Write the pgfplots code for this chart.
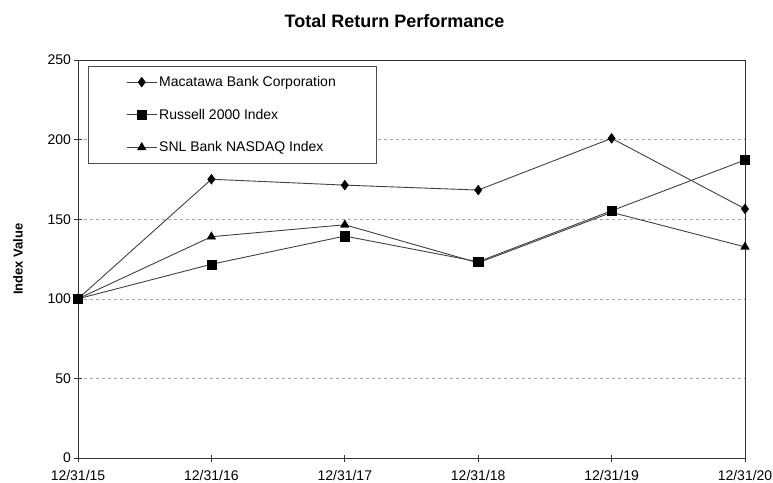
\documentclass[border=0pt]{standalone}
\usepackage{pgfplots}
\pgfplotsset{compat=1.18}
\usepackage{fontspec}
\setmainfont{Liberation Sans}
\begin{document}
\begin{tikzpicture}[x=1pt,y=1pt]
\path[use as bounding box] (-78,-24) rectangle (695,458);
\begin{axis}[
  at={(0,0)}, anchor=south west,
  scale only axis, width=667pt, height=398pt,
  xmin=0, xmax=5, ymin=0, ymax=250,
  xtick={0,1,2,3,4,5},
  xticklabels={12/31/15,12/31/16,12/31/17,12/31/18,12/31/19,12/31/20},
  ytick={0,50,100,150,200,250},
  tick align=center, major tick length=7pt,
  xtick pos=bottom, ytick pos=left,
  ymajorgrids, grid style={gray!70, dashed, line width=0.5pt},
  axis line style={black!80, line width=0.9pt},
  tick style={black!80, line width=0.7pt},
  tick label style={font=\fontsize{14}{15}\selectfont},
  /pgf/number format/assume math mode=true,
  yticklabel style={xshift=0pt},
  xticklabel style={yshift=-5pt},
  ylabel={\bfseries Index Value},
  ylabel style={font=\fontsize{13}{14}\selectfont, at={(axis description cs:-0.09,0.5)}, anchor=center},
  title={\bfseries Total Return Performance},
  title style={font=\fontsize{18}{20}\selectfont, at={(axis description cs:0.5,1)}, xshift=-17pt, yshift=26pt, anchor=base},
  legend style={at={(axis description cs:0.015,0.985)}, anchor=north west,
    draw=black!70, line width=0.6pt, font=\fontsize{14}{15}\selectfont,
    inner xsep=38pt, inner ysep=8pt, row sep=17pt,
    /tikz/every even column/.append style={column sep=0pt}},
  legend cell align=left,
  legend image code/.code={
    \draw[mark repeat=2,mark phase=2,#1] plot coordinates {(0pt,0pt) (15pt,0pt) (30pt,0pt)};
  },
  clip=false,
]
\addplot[black!75, line width=0.9pt, mark=diamond*, mark size=5pt, mark options={black, line width=0.3pt}]
  coordinates {(0,100) (1,175.1) (2,171.4) (3,168.3) (4,200.8) (5,156.5)};
\addlegendentry{Macatawa Bank Corporation}
\addplot[black!75, line width=0.9pt, mark=square*, mark size=4.6pt, mark options={black, line width=0.3pt}]
  coordinates {(0,100) (1,121.7) (2,139.4) (3,123.3) (4,155.3) (5,187.2)};
\addlegendentry{Russell 2000 Index}
\addplot[black!75, line width=0.9pt, mark=triangle*, mark size=5pt, mark options={black, line width=0.3pt}]
  coordinates {(0,100) (1,139.0) (2,146.5) (3,122.6) (4,154.3) (5,132.6)};
\addlegendentry{SNL Bank NASDAQ Index}
\end{axis}
\end{tikzpicture}
\end{document}
